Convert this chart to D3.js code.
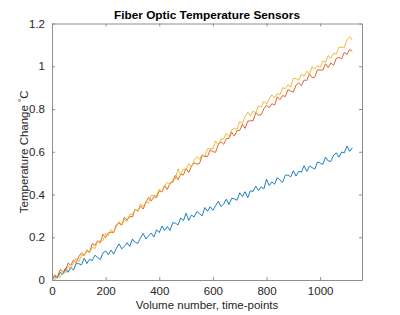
<!DOCTYPE html>
<html>
<head>
<meta charset="utf-8">
<script src="https://cdn.jsdelivr.net/npm/d3@7"></script>
<style>
	body { margin: 0; background: #fff; }
	svg text { font-family: "Liberation Sans", Arial, Helvetica, sans-serif; }
</style>
</head>
<body>
<figure id="sensors" style="margin:0"></figure>
<script>
// readings were sampled every 10 volumes (0 .. 1120)
const sampleStep = 10;

const sensorBlue = [
	0.000, 0.016, 0.009, 0.035, 0.027, 0.055, 0.036, 0.059, 0.046, 0.077,
	0.076, 0.071, 0.102, 0.077, 0.097, 0.091, 0.116, 0.105, 0.096, 0.126,
	0.136, 0.119, 0.140, 0.121, 0.148, 0.169, 0.146, 0.157, 0.174, 0.157,
	0.191, 0.176, 0.172, 0.197, 0.218, 0.192, 0.207, 0.220, 0.201, 0.235,
	0.222, 0.252, 0.232, 0.250, 0.232, 0.268, 0.266, 0.258, 0.290, 0.278,
	0.312, 0.279, 0.304, 0.295, 0.320, 0.311, 0.300, 0.339, 0.322, 0.343,
	0.326, 0.347, 0.368, 0.344, 0.355, 0.378, 0.353, 0.382, 0.380, 0.373,
	0.408, 0.390, 0.413, 0.385, 0.418, 0.414, 0.439, 0.419, 0.436, 0.426,
	0.471, 0.442, 0.459, 0.448, 0.479, 0.468, 0.457, 0.490, 0.491, 0.482,
	0.511, 0.486, 0.509, 0.504, 0.535, 0.508, 0.533, 0.526, 0.519, 0.552,
	0.547, 0.541, 0.575, 0.557, 0.555, 0.583, 0.595, 0.575, 0.599, 0.595,
	0.627, 0.602, 0.619
];

const sensorRed = [
	0.003, 0.023, 0.015, 0.048, 0.040, 0.042, 0.080, 0.068, 0.093, 0.081,
	0.109, 0.127, 0.115, 0.137, 0.129, 0.170, 0.162, 0.182, 0.174, 0.214,
	0.198, 0.220, 0.224, 0.222, 0.258, 0.265, 0.257, 0.293, 0.281, 0.297,
	0.295, 0.331, 0.323, 0.347, 0.332, 0.364, 0.386, 0.370, 0.390, 0.386,
	0.418, 0.412, 0.442, 0.424, 0.453, 0.457, 0.489, 0.469, 0.495, 0.491,
	0.522, 0.503, 0.533, 0.548, 0.542, 0.545, 0.583, 0.578, 0.578, 0.609,
	0.601, 0.597, 0.633, 0.647, 0.635, 0.661, 0.663, 0.691, 0.673, 0.699,
	0.699, 0.729, 0.709, 0.743, 0.745, 0.745, 0.783, 0.771, 0.773, 0.801,
	0.817, 0.806, 0.825, 0.818, 0.857, 0.844, 0.863, 0.858, 0.891, 0.884,
	0.879, 0.912, 0.922, 0.909, 0.935, 0.934, 0.964, 0.947, 0.949, 0.984,
	0.982, 0.982, 1.012, 0.994, 1.016, 1.004, 1.037, 1.041, 1.035, 1.065,
	1.055, 1.079, 1.069
];

const sensorYellow = [
	0.000, 0.000, 0.018, 0.012, 0.040, 0.032, 0.066, 0.053, 0.080, 0.101,
	0.085, 0.116, 0.114, 0.143, 0.129, 0.154, 0.147, 0.181, 0.184, 0.184,
	0.219, 0.208, 0.236, 0.223, 0.249, 0.274, 0.258, 0.283, 0.274, 0.308,
	0.307, 0.331, 0.320, 0.356, 0.345, 0.365, 0.360, 0.397, 0.395, 0.396,
	0.424, 0.411, 0.441, 0.458, 0.446, 0.471, 0.472, 0.520, 0.491, 0.519,
	0.516, 0.544, 0.529, 0.559, 0.577, 0.565, 0.586, 0.578, 0.614, 0.614,
	0.615, 0.651, 0.633, 0.659, 0.660, 0.686, 0.670, 0.702, 0.709, 0.705,
	0.741, 0.732, 0.764, 0.785, 0.768, 0.791, 0.782, 0.814, 0.809, 0.836,
	0.822, 0.847, 0.866, 0.852, 0.873, 0.866, 0.900, 0.895, 0.914, 0.902,
	0.943, 0.943, 0.935, 0.963, 0.953, 0.977, 0.963, 0.997, 0.987, 1.003,
	0.993, 1.025, 1.020, 1.050, 1.038, 1.060, 1.057, 1.089, 1.089, 1.089,
	1.124, 1.138, 1.122
];

const seriesColors = ["#0072BD", "#D95319", "#EDB120"];
const xTicks = [0, 200, 400, 600, 800, 1000];
const yTicks = [0, 0.2, 0.4, 0.6, 0.8, 1, 1.2];
const xLimit = [0, 1156];
const yLimit = [0, 1.2];

const width = 400, height = 315;
const box = { left: 52, right: 362, top: 23.5, bottom: 280 };
const tickLen = 3;
const axisColor = "#8f8f8f";
const textColor = "#262626";
const fontSize = "11.5px";

const svg = d3.select("figure#sensors").append("svg")
	.attr("width", width)
	.attr("height", height)
	.attr("viewBox", `0 0 ${width} ${height}`);

const xScale = d3.scaleLinear().domain(xLimit).range([box.left, box.right]);
const yScale = d3.scaleLinear().domain(yLimit).range([box.bottom, box.top]);

// data lines (clipped to the axes box like matlab does)
svg.append("clipPath").attr("id", "plotArea")
	.append("rect")
	.attr("x", box.left).attr("y", box.top)
	.attr("width", box.right - box.left)
	.attr("height", box.bottom - box.top);

const line = d3.line()
	.x((d, i) => xScale(i * sampleStep))
	.y((d) => yScale(d));

svg.append("g")
	.attr("clip-path", "url(#plotArea)")
	.selectAll("path")
	.data([sensorBlue, sensorRed, sensorYellow])
	.enter()
	.append("path")
	.attr("d", line)
	.attr("fill", "none")
	.attr("stroke", (d, i) => seriesColors[i])
	.attr("stroke-width", 0.9)
	.attr("stroke-linejoin", "round");

// axes: ticks point inward, on all four sides
const xAxisBottom = svg.append("g")
	.attr("transform", `translate(0,${box.bottom})`)
	.call(d3.axisBottom(xScale).tickValues(xTicks).tickSizeInner(-tickLen).tickSizeOuter(0).tickPadding(7)
		.tickFormat(d3.format("d")));
const xAxisTop = svg.append("g")
	.attr("transform", `translate(0,${box.top})`)
	.call(d3.axisTop(xScale).tickValues(xTicks).tickSizeInner(-tickLen).tickSizeOuter(0).tickFormat(""));
const yAxisLeft = svg.append("g")
	.attr("transform", `translate(${box.left},0)`)
	.call(d3.axisLeft(yScale).tickValues(yTicks).tickSizeInner(-tickLen).tickSizeOuter(0).tickPadding(7)
		.tickFormat(d3.format("~g")));
const yAxisRight = svg.append("g")
	.attr("transform", `translate(${box.right},0)`)
	.call(d3.axisRight(yScale).tickValues(yTicks).tickSizeInner(-tickLen).tickSizeOuter(0).tickFormat(""));

[xAxisBottom, xAxisTop, yAxisLeft, yAxisRight].forEach((ax) => {
	ax.select(".domain").attr("stroke", axisColor);
	ax.selectAll(".tick line").attr("stroke", axisColor);
	ax.selectAll(".tick text")
		.attr("fill", textColor)
		.attr("font-size", fontSize)
		.attr("font-family", null);
});

// labels
svg.append("text")
	.attr("x", (box.left + box.right) / 2)
	.attr("y", 19)
	.attr("text-anchor", "middle")
	.attr("font-size", "11.8px")
	.attr("font-weight", "bold")
	.attr("fill", "#000")
	.text("Fiber Optic Temperature Sensors");

svg.append("text")
	.attr("x", (box.left + box.right) / 2)
	.attr("y", 309)
	.attr("text-anchor", "middle")
	.attr("font-size", fontSize)
	.attr("fill", textColor)
	.text("Volume number, time-points");

const yLabel = svg.append("text")
	.attr("transform", `translate(28,${(box.top + box.bottom) / 2}) rotate(-90)`)
	.attr("text-anchor", "middle")
	.attr("font-size", fontSize)
	.attr("fill", textColor);
yLabel.append("tspan").text("Temperature Change  ");
yLabel.append("tspan").attr("font-size", "8px").attr("dy", -4).text("°");
yLabel.append("tspan").attr("dy", 4).text("C");
</script>
</body>
</html>
